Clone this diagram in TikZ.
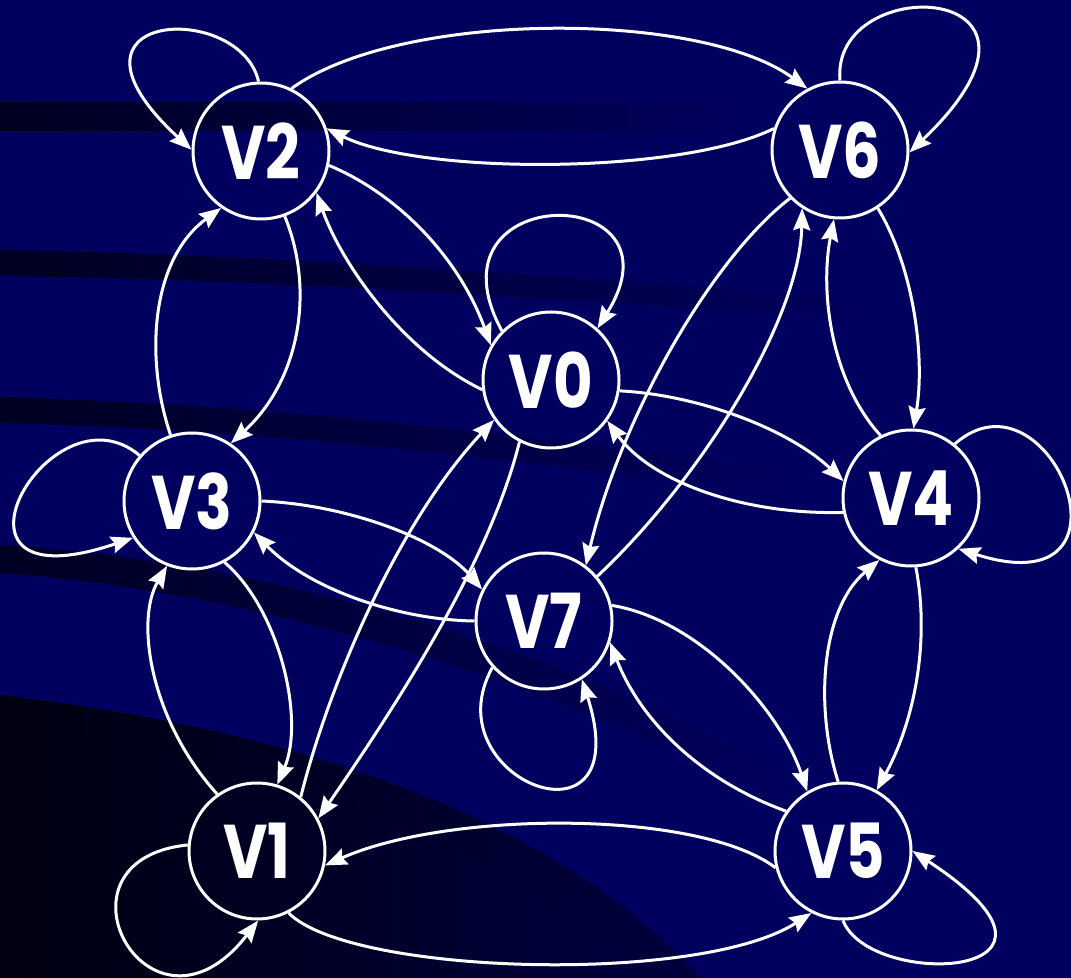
\documentclass[tikz,border=0pt]{standalone}
\usepackage{fontspec}
\setmainfont{Poppins}
\usetikzlibrary{arrows.meta}
\definecolor{bgnavy}{HTML}{00005E}
\definecolor{bgdark}{HTML}{000022}
\definecolor{bgdeep}{HTML}{000010}
\definecolor{bgmid}{HTML}{00003E}
\newcommand{\vlab}[1]{\scalebox{0.8}[1]{#1}}
\begin{document}
\begin{tikzpicture}[x=0.5pt,y=-0.5pt,
  vert/.style={circle,draw=white,line width=1.5pt,minimum size=68pt,inner sep=0pt,text=white,
    font=\fontsize{38}{40}\selectfont\bfseries},
  conn/.style={draw=white,line width=1.5pt,-{Stealth[length=11pt,width=8.5pt,inset=1.5pt]}}]
% background
\fill[bgnavy] (0,0) rectangle (1071,978);
\useasboundingbox (0,0) rectangle (1071,978);
\shade[left color=bgdark,right color=bgnavy] (0,103) rectangle (760,131);
\shade[left color=bgdark,right color=bgnavy] (0,250) .. controls (300,255) and (600,280) .. (880,300)
  -- (880,322) .. controls (600,302) and (300,280) .. (0,276) -- cycle;
\shade[left color=bgdark,right color=bgnavy] (0,397) .. controls (300,405) and (550,440) .. (800,470)
  -- (800,496) .. controls (550,466) and (300,430) .. (0,423) -- cycle;
\shade[left color=bgdark,right color=bgnavy] (0,545) .. controls (250,560) and (550,640) .. (800,780)
  -- (800,810) .. controls (550,680) and (250,590) .. (0,573) -- cycle;
\shade[left color=bgdeep,right color=bgmid] (0,695) .. controls (300,730) and (560,820) .. (700,978)
  -- (0,978) -- cycle;
\shade[left color=bgdeep,right color=bgmid] (0,722) .. controls (280,765) and (520,850) .. (650,978)
  -- (0,978) -- cycle;
% nodes
\node[vert] (V2) at (261,151) {\vlab{V2}};
\node[vert] (V6) at (840,150) {\vlab{V6}};
\node[vert] (V0) at (551,380) {\vlab{V0}};
\node[vert] (V3) at (192,501) {\vlab{V3}};
\node[vert] (V4) at (911,498) {\vlab{V4}};
\node[vert] (V7) at (544,621) {\vlab{V7}};
\node[vert] (V1) at (257,851) {\vlab{V1}};
\node[vert] (V5) at (843,851) {\vlab{V5}};
% self loops
\draw[conn] (V2.92) .. controls (240,0) and (40,10) .. (V2.179);
\draw[conn] (V6.90) .. controls (830,-30) and (1090,-20) .. (V6.358);
\draw[conn] (V0.135) .. controls (420,180) and (690,180) .. (V0.48);
\draw[conn] (V3.139) .. controls (50,380) and (-80,610) .. (V3.212);
\draw[conn] (V1.175) .. controls (40,860) and (150,1060) .. (V1.271);
\draw[conn] (V5.270) .. controls (870,990) and (1110,980) .. (V5.0);
\draw[conn] (V7.222) .. controls (430,780) and (640,860) .. (V7.303);
\draw[conn] (V4.51) .. controls (1050,360) and (1150,610) .. (V4.313);
% edges
\draw[conn] (V2.64) .. controls (400,10) and (700,10) .. (V6.118);
\draw[conn] (V6.162) .. controls (680,175) and (420,175) .. (V2.19);
\draw[conn] (V2.348) .. controls (400,195) and (460,260) .. (V0.150);
\draw[conn] (V0.188) .. controls (400,350) and (340,260) .. (V2.323);
\draw[conn] (V2.290) .. controls (315,290) and (300,380) .. (V3.56);
\draw[conn] (V3.108) .. controls (145,360) and (150,260) .. (V2.235);
\draw[conn] (V3.0) .. controls (350,505) and (440,540) .. (V7.153);
\draw[conn] (V7.180) .. controls (400,620) and (310,590) .. (V3.333);
\draw[conn] (V3.298) .. controls (280,610) and (305,720) .. (V1.73);
\draw[conn] (V1.125) .. controls (150,720) and (135,620) .. (V3.249);
\draw[conn] (V1.51) .. controls (330,680) and (400,520) .. (V0.215);
\draw[conn] (V0.243) .. controls (490,560) and (400,700) .. (V1.28);
\draw[conn] (V1.297) .. controls (350,975) and (700,985) .. (V5.243);
\draw[conn] (V5.194) .. controls (700,810) and (450,810) .. (V1.348);
\draw[conn] (V7.13) .. controls (700,620) and (780,710) .. (V5.121);
\draw[conn] (V5.145) .. controls (700,780) and (640,720) .. (V7.342);
\draw[conn] (V6.224) .. controls (710,260) and (620,420) .. (V7.53);
\draw[conn] (V7.40) .. controls (700,480) and (800,320) .. (V6.237);
\draw[conn] (V0.351) .. controls (700,395) and (790,430) .. (V4.166);
\draw[conn] (V4.192) .. controls (740,515) and (650,480) .. (V0.324);
\draw[conn] (V6.303) .. controls (915,270) and (925,360) .. (V4.88);
\draw[conn] (V4.116) .. controls (830,380) and (820,290) .. (V6.265);
\draw[conn] (V4.274) .. controls (930,640) and (915,720) .. (V5.61);
\draw[conn] (V5.94) .. controls (815,710) and (820,610) .. (V4.243);
\end{tikzpicture}
\end{document}
